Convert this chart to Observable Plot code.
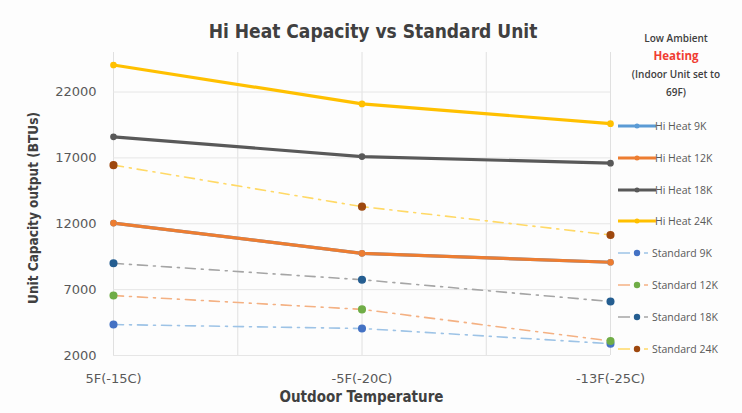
<!DOCTYPE html>
<html>
<head>
<meta charset="utf-8">
<script src="https://cdn.jsdelivr.net/npm/d3@7"></script>
<script src="https://cdn.jsdelivr.net/npm/@observablehq/plot@0.6"></script>
<style>
  html, body { margin: 0; padding: 0; background: #ffffff; }
  #wrap { position: relative; width: 742px; height: 413px; overflow: hidden; background: #fdfdfd; font-family: "DejaVu Sans", sans-serif; }
  #chart { position: absolute; left: 0; top: 0; }
  .title { position: absolute; left: 113px; width: 520px; top: 20px; text-align: center; font-family: "DejaVu Sans Condensed", "DejaVu Sans", sans-serif; font-stretch: condensed; font-weight: bold; font-size: 19px; color: #404040; }
  .xlabel { position: absolute; left: 113px; width: 497px; top: 388px; text-align: center; font-family: "DejaVu Sans Condensed", "DejaVu Sans", sans-serif; font-stretch: condensed; font-weight: bold; font-size: 15px; color: #404040; }
  .ylabel { position: absolute; left: 33px; top: 208px; transform: translate(-50%, -50%) rotate(-90deg); white-space: nowrap; font-family: "DejaVu Sans Condensed", "DejaVu Sans", sans-serif; font-stretch: condensed; font-weight: bold; font-size: 13.5px; color: #404040; }
  .lhead { position: absolute; left: 612px; width: 128px; text-align: center; font-family: "Open Sans", sans-serif; font-weight: 600; color: #404040; font-size: 10px; line-height: 18px; }
  .lhead .red { color: #f03c32; font-weight: bold; font-size: 11.5px; }
  .litem { position: absolute; left: 654px; font-family: "Open Sans", sans-serif; font-size: 10.5px; color: #595959; white-space: nowrap; transform: translateY(-50%); }
</style>
</head>
<body>
<div id="wrap">
  <div id="chart"></div>
  <div class="title">Hi Heat Capacity vs Standard Unit</div>
  <div class="xlabel">Outdoor Temperature</div>
  <div class="ylabel">Unit Capacity output (BTUs)</div>
  <div class="lhead" style="top:29px">Low Ambient<br><span class="red">Heating</span><br>(Indoor Unit set to<br>69F)</div>
  <div id="legend"></div>
</div>
<script>
// ---- data ----
const categories = ["5F(-15C)", "-5F(-20C)", "-13F(-25C)"];
const yTicks = [2000, 7000, 12000, 17000, 22000];
const seriesNames = ["Hi Heat 9K", "Hi Heat 12K", "Hi Heat 18K", "Hi Heat 24K",
                     "Standard 9K", "Standard 12K", "Standard 18K", "Standard 24K"];
const hiHeat9K   = [12050, 9750, 9080];
const hiHeat12K  = [12050, 9750, 9080];
const hiHeat18K  = [18600, 17100, 16600];
const hiHeat24K  = [24050, 21100, 19600];
const standard9K  = [4350, 4050, 2900];
const standard12K = [6550, 5500, 3100];
const standard18K = [9000, 7750, 6100];
const standard24K = [16450, 13300, 11150];

const seriesValues = [hiHeat9K, hiHeat12K, hiHeat18K, hiHeat24K,
                      standard9K, standard12K, standard18K, standard24K];
const lineColors   = ["#5b9bd5", "#ed7d31", "#595959", "#ffc000",
                      "#9dc3e6", "#f4b183", "#a5a5a5", "#ffd966"];
const markerColors = ["#5b9bd5", "#ed7d31", "#595959", "#ffc000",
                      "#4472c4", "#70ad47", "#255e91", "#9e480e"];

const rows = [];
seriesNames.forEach((s, k) => seriesValues[k].forEach((v, i) => rows.push({series: s, k, x: i, y: v})));
const hi = rows.filter(d => d.k < 4);
const st = rows.filter(d => d.k >= 4);

const chart = Plot.plot({
  width: 742,
  height: 413,
  marginLeft: 113,
  marginRight: 132,
  marginTop: 52,
  marginBottom: 58,
  style: {background: "transparent", fontFamily: "DejaVu Sans, sans-serif", fontSize: "13px", color: "#595959"},
  x: {type: "linear", domain: [0, 2], label: null},
  y: {domain: [2000, 25000], label: null},
  marks: [
    Plot.gridX([0, 0.5, 1, 1.5, 2], {stroke: "#e0e0e0", strokeOpacity: 1, strokeWidth: 1}),
    Plot.gridY(yTicks, {stroke: "#e6e6e6", strokeOpacity: 1, strokeWidth: 1}),
    Plot.axisX([0, 1, 2], {tickSize: 0, tickPadding: 18, tickFormat: i => categories[i], fontSize: 13, fill: "#595959"}),
    Plot.axisY(yTicks, {tickSize: 0, tickPadding: 17, tickFormat: d => String(d), fontSize: 13, fill: "#595959"}),
    Plot.line(hi, {x: "x", y: "y", z: "series", stroke: d => lineColors[d.k], strokeWidth: 3.2}),
    Plot.dot(hi, {x: "x", y: "y", r: 2.6, fill: d => markerColors[d.k], stroke: d => markerColors[d.k]}),
    Plot.line(st, {x: "x", y: "y", z: "series", stroke: d => lineColors[d.k], strokeWidth: 1.6, strokeDasharray: "10,6,2,6"}),
    Plot.dot(st, {x: "x", y: "y", r: 3.3, fill: d => markerColors[d.k], stroke: d => markerColors[d.k]})
  ]
});
document.getElementById("chart").appendChild(chart);

// legend
const legend = document.getElementById("legend");
seriesNames.forEach((s, k) => {
  const y = 126 + k * 31.8;
  const sw = document.createElementNS("http://www.w3.org/2000/svg", "svg");
  sw.setAttribute("width", 40); sw.setAttribute("height", 12);
  sw.style.position = "absolute"; sw.style.left = "616px"; sw.style.top = (y - 6) + "px";
  if (k < 4) {
    sw.innerHTML = `<line x1="2" x2="40" y1="6" y2="6" stroke="${lineColors[k]}" stroke-width="2.8"/>` +
                   `<circle cx="21" cy="6" r="2.5" fill="${markerColors[k]}"/>`;
  } else {
    sw.innerHTML = `<line x1="2" x2="14" y1="6" y2="6" stroke="${lineColors[k]}" stroke-width="1.5"/>` +
                   `<line x1="28" x2="32" y1="6" y2="6" stroke="${lineColors[k]}" stroke-width="1.5"/>` +
                   `<circle cx="21" cy="6" r="3.2" fill="${markerColors[k]}"/>`;
  }
  legend.appendChild(sw);
  const t = document.createElement("div");
  t.className = "litem";
  t.style.top = y + "px";
  t.style.left = (k < 4 ? 655 : 652) + "px";
  t.textContent = s;
  legend.appendChild(t);
});
</script>
</body>
</html>
